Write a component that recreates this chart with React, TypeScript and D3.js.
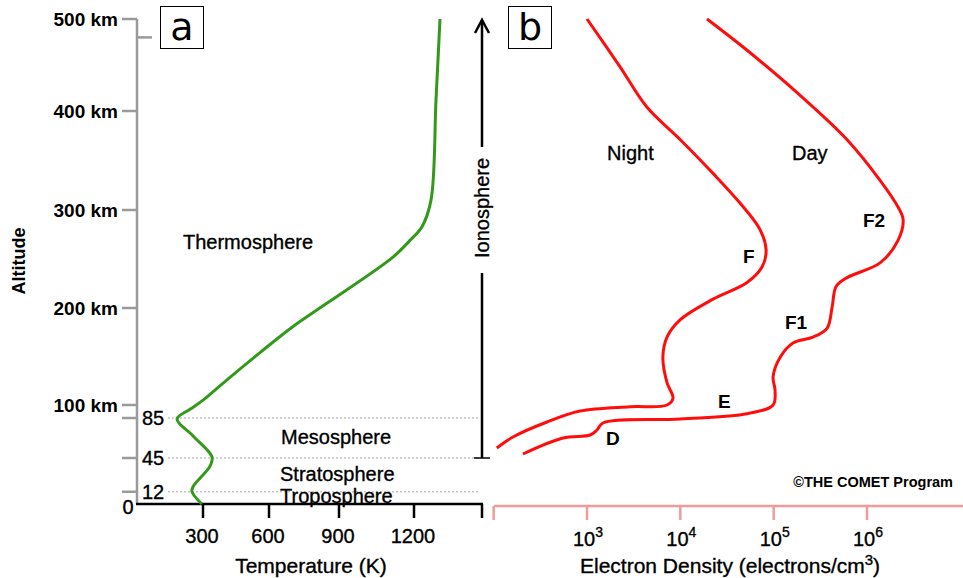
import React, { useEffect, useRef } from 'react';
import * as d3 from 'd3';

// altitude axis
const altTicks = [100, 200, 300, 400, 500];
const layerTicks = [12, 45, 85];
// temperature axis (K)
const tempTicks = [300, 600, 900, 1200];
// electron density axis
const densityTicks = [1e3, 1e4, 1e5, 1e6];
const densityExp = ['3', '4', '5', '6'];

// panel a: temperature profile
const tempAlt = [0, 12, 17, 37, 46, 67, 84, 95, 105, 126, 154, 181, 205, 252, 269, 283, 310, 412, 500];
const tempK = [295, 250, 255, 332, 341, 255, 182, 241, 300, 409, 559, 703, 849, 1116, 1184, 1232, 1268, 1288, 1304];

// panel b: electron density profiles
const nightAlt = [55, 66, 81, 93, 98, 100, 107, 123, 149, 170, 188, 209, 226, 242, 259, 280, 307, 337, 371, 404, 448, 500];
const nightDensity = [108, 161, 373, 840, 2890, 7200, 8340, 7200, 6500, 7200, 10000, 22400, 51900, 75200, 83000, 71400, 43600, 22400, 10000, 4400, 2260, 1000];
const dayAlt = [49, 65, 68, 73, 80, 84, 90, 100, 115, 129, 149, 164, 170, 179, 201, 222, 231, 246, 269, 290, 303, 330, 371, 420, 466, 500];
const dayDensity = [206, 553, 1080, 1280, 1480, 10000, 51900, 98600, 103500, 98600, 117000, 161000, 264000, 373000, 423000, 467000, 612000, 1380000, 2150000, 2440000, 2150000, 1380000, 612000, 178000, 51900, 19300];

const FONT = 'Liberation Sans, Arial, Helvetica, sans-serif';

const App: React.FC = () => {
    const ref = useRef<SVGSVGElement | null>(null);

    useEffect(() => {
        if (!ref.current) return;
        const width = 963;
        const height = 578;

        d3.select(ref.current).selectAll('*').remove();
        const svg = d3.select(ref.current)
            .attr('width', width)
            .attr('height', height)
            .style('font-family', FONT);

        // the original drawing is not quite linear, so piecewise scales
        const y = d3.scaleLinear()
            .domain([0, 45, 85, 100, 200, 300, 400, 500])
            .range([504, 458, 418, 405, 308, 210, 111, 19]);
        const xT = d3.scaleLinear()
            .domain([0, 300, 600, 900, 1200])
            .range([137, 203, 269, 339, 414]);
        const xD = d3.scaleLog()
            .domain([1e3, 1e6])
            .range([587, 867]);

        // slightly heavier regular text, like the scanned original
        const heavy = (sel: any) => sel.attr('stroke', '#000').attr('stroke-width', 0.35);

        // dotted layer boundaries
        svg.selectAll('line.layer')
            .data(layerTicks)
            .enter()
            .append('line')
            .attr('x1', 168)
            .attr('x2', 480)
            .attr('y1', d => y(d))
            .attr('y2', d => y(d))
            .attr('stroke', '#c4c4c4')
            .attr('stroke-width', 1.5)
            .attr('stroke-dasharray', '2,2');

        // left altitude axis (gray)
        const gray = '#9a9a9a';
        svg.append('line')
            .attr('x1', 137).attr('x2', 137)
            .attr('y1', y(500)).attr('y2', y(0))
            .attr('stroke', gray).attr('stroke-width', 2.5);
        svg.selectAll('line.atick')
            .data([...altTicks, ...layerTicks])
            .enter()
            .append('line')
            .attr('x1', 122).attr('x2', 137)
            .attr('y1', d => y(d)).attr('y2', d => y(d))
            .attr('stroke', gray).attr('stroke-width', 2.5);
        svg.append('line')
            .attr('x1', 137).attr('x2', 152)
            .attr('y1', y(480)).attr('y2', y(480))
            .attr('stroke', gray).attr('stroke-width', 2.5);

        svg.selectAll('text.alab')
            .data(altTicks)
            .enter()
            .append('text')
            .attr('x', 118)
            .attr('y', d => y(d))
            .attr('dy', '0.35em')
            .attr('text-anchor', 'end')
            .style('font-size', '19px')
            .style('font-weight', 'bold')
            .text(d => `${d} km`);
        svg.selectAll('text.llab')
            .data(layerTicks)
            .enter()
            .append('text')
            .attr('x', 142)
            .attr('y', d => y(d))
            .attr('dy', '0.36em')
            .style('font-size', '20px')
            .call(heavy)
            .text(d => d);
        svg.append('text')
            .attr('x', 128).attr('y', y(0) + 3).attr('dy', '0.36em')
            .attr('text-anchor', 'middle')
            .style('font-size', '20px')
            .call(heavy)
            .text('0');

        svg.append('text')
            .attr('transform', `translate(25, 261) rotate(-90)`)
            .attr('text-anchor', 'middle')
            .style('font-size', '18px')
            .style('font-weight', 'bold')
            .text('Altitude');

        // temperature axis (black)
        svg.append('line')
            .attr('x1', 136).attr('x2', 483)
            .attr('y1', y(0)).attr('y2', y(0))
            .attr('stroke', '#000').attr('stroke-width', 2.5);
        svg.selectAll('line.ttick')
            .data([...tempTicks])
            .enter()
            .append('line')
            .attr('x1', d => xT(d)).attr('x2', d => xT(d))
            .attr('y1', y(0)).attr('y2', y(0) + 14)
            .attr('stroke', '#000').attr('stroke-width', 2.5);
        svg.append('line')
            .attr('x1', 482).attr('x2', 482)
            .attr('y1', y(0)).attr('y2', y(0) + 14)
            .attr('stroke', '#000').attr('stroke-width', 2.5);
        svg.selectAll('text.tlab')
            .data(tempTicks)
            .enter()
            .append('text')
            .attr('x', d => xT(d) - 1)
            .attr('y', 543)
            .attr('text-anchor', 'middle')
            .style('font-size', '20px')
            .call(heavy)
            .text(d => d);
        svg.append('text')
            .attr('x', 311).attr('y', 573)
            .attr('text-anchor', 'middle')
            .style('font-size', '21px')
            .call(heavy)
            .text('Temperature (K)');

        // temperature curve
        const tempLine = d3.line<number>()
            .x((d, i) => xT(tempK[i]))
            .y(d => y(d))
            .curve(d3.curveCatmullRom.alpha(0.5));
        svg.append('path')
            .datum(tempAlt)
            .attr('fill', 'none')
            .attr('stroke', '#33991a')
            .attr('stroke-width', 3)
            .attr('d', tempLine);

        // layer names
        const layerNames = [
            { t: 'Thermosphere', x: 183, y: 249 },
            { t: 'Mesosphere', x: 281, y: 444 },
            { t: 'Stratosphere', x: 280, y: 481 },
            { t: 'Troposphere', x: 280, y: 503 },
        ];
        svg.selectAll('text.layername')
            .data(layerNames)
            .enter()
            .append('text')
            .attr('x', d => d.x)
            .attr('y', d => d.y)
            .style('font-size', '20px')
            .call(heavy)
            .text(d => d.t);

        // ionosphere arrow
        const ax = 482;
        svg.append('line')
            .attr('x1', ax).attr('x2', ax)
            .attr('y1', y(45)).attr('y2', 273)
            .attr('stroke', '#000').attr('stroke-width', 2.5);
        svg.append('line')
            .attr('x1', ax).attr('x2', ax)
            .attr('y1', 147).attr('y2', y(500) + 1)
            .attr('stroke', '#000').attr('stroke-width', 2.5);
        svg.append('path')
            .attr('d', `M${ax - 7},${y(500) + 14} L${ax},${y(500) + 1} L${ax + 7},${y(500) + 14}`)
            .attr('fill', 'none')
            .attr('stroke', '#000')
            .attr('stroke-width', 2.5);
        svg.append('line')
            .attr('x1', ax - 8).attr('x2', ax + 8)
            .attr('y1', y(45)).attr('y2', y(45))
            .attr('stroke', '#000').attr('stroke-width', 1.5);
        svg.append('text')
            .attr('transform', `translate(${ax + 7}, 208) rotate(-90)`)
            .attr('text-anchor', 'middle')
            .style('font-size', '20px')
            .call(heavy)
            .text('Ionosphere');

        // electron density axis (light red)
        const pink = '#f39a9a';
        svg.append('line')
            .attr('x1', 494).attr('x2', 963)
            .attr('y1', 506).attr('y2', 506)
            .attr('stroke', pink).attr('stroke-width', 2.5);
        svg.selectAll('line.dtick')
            .data([1e2, ...densityTicks])
            .enter()
            .append('line')
            .attr('x1', d => xD(d)).attr('x2', d => xD(d))
            .attr('y1', 506).attr('y2', 520)
            .attr('stroke', pink).attr('stroke-width', 2.5);
        const dl = svg.selectAll('text.dlab')
            .data(densityTicks)
            .enter()
            .append('text')
            .attr('x', d => xD(d) - 14)
            .attr('y', 546)
            .style('font-size', '20px')
            .call(heavy);
        dl.append('tspan').text('10');
        dl.append('tspan')
            .attr('dy', -9)
            .style('font-size', '14px')
            .text((d, i) => densityExp[i]);

        const dt = svg.append('text')
            .attr('x', 580).attr('y', 573)
            .style('font-size', '21px')
            .call(heavy);
        dt.append('tspan').text('Electron Density (electrons/cm');
        dt.append('tspan').attr('dy', -8).style('font-size', '15px').text('3');
        dt.append('tspan').attr('dy', 8).text(')');

        // electron density curves
        const nightLine = d3.line<number>()
            .x((d, i) => xD(nightDensity[i]))
            .y(d => y(d))
            .curve(d3.curveCatmullRom.alpha(0.5));
        const dayLine = d3.line<number>()
            .x((d, i) => xD(dayDensity[i]))
            .y(d => y(d))
            .curve(d3.curveCatmullRom.alpha(0.5));
        svg.append('path')
            .datum(nightAlt)
            .attr('fill', 'none')
            .attr('stroke', '#ff0d0d')
            .attr('stroke-width', 3)
            .attr('d', nightLine);
        svg.append('path')
            .datum(dayAlt)
            .attr('fill', 'none')
            .attr('stroke', '#ff0d0d')
            .attr('stroke-width', 3)
            .attr('d', dayLine);

        const curveLabels = [
            { t: 'Night', x: 607, y: 160, b: false },
            { t: 'Day', x: 792, y: 160, b: false },
            { t: 'F2', x: 863, y: 227, b: true },
            { t: 'F', x: 743, y: 263, b: true },
            { t: 'F1', x: 785, y: 329, b: true },
            { t: 'E', x: 718, y: 408, b: true },
            { t: 'D', x: 606, y: 445, b: true },
        ];
        svg.selectAll('text.clab')
            .data(curveLabels)
            .enter()
            .append('text')
            .attr('x', d => d.x)
            .attr('y', d => d.y)
            .style('font-size', d => (d.b ? '19px' : '20px'))
            .style('font-weight', d => (d.b ? 'bold' : 'normal'))
            .attr('stroke', d => (d.b ? 'none' : '#000'))
            .attr('stroke-width', 0.35)
            .text(d => d.t);

        svg.append('text')
            .attr('x', 953).attr('y', 487)
            .attr('text-anchor', 'end')
            .style('font-size', '14.5px')
            .style('font-weight', 'bold')
            .text('\u00A9THE COMET Program');

        // panel tags
        const tags = [
            { t: 'a', x: 160 },
            { t: 'b', x: 508 },
        ];
        const tg = svg.selectAll('g.tag')
            .data(tags)
            .enter()
            .append('g');
        tg.append('rect')
            .attr('x', d => d.x + 0.5)
            .attr('y', 6.5)
            .attr('width', 43)
            .attr('height', 42)
            .attr('fill', '#fff')
            .attr('stroke', '#000')
            .attr('stroke-width', 1);
        tg.append('text')
            .attr('x', d => d.x + 22)
            .attr('y', 40)
            .attr('text-anchor', 'middle')
            .style('font-family', 'DejaVu Sans, sans-serif')
            .style('font-size', '38px')
            .text(d => d.t);
    }, []);

    return <svg ref={ref} style={{ position: 'absolute', left: 0, top: 0 }} />;
};

export default App;
